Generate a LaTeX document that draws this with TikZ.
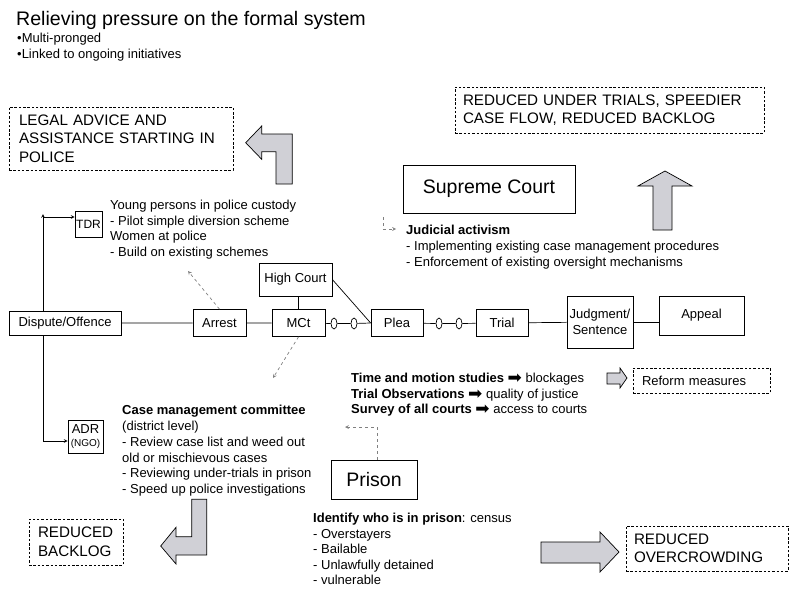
\documentclass[tikz,border=0pt]{standalone}
\usepackage{fontspec}
\setmainfont{Liberation Sans}
\newfontfamily\symfont{DejaVu Sans}
\usepackage{tikz}
\usetikzlibrary{arrows}
\usetikzlibrary{shapes.geometric}
\usepackage{xcolor}
\definecolor{arrowgray}{RGB}{208,208,214}
\tikzset{
  box/.style={draw, line width=0.7pt, fill=white, inner sep=1pt, align=center, font=\fontsize{13}{16}\selectfont},
  bigbox/.style={box, font=\fontsize{19.5}{22}\selectfont},
  dashbox/.style={draw, line width=0.7pt, dash pattern=on 2.5pt off 1.8pt, align=left, inner ysep=0pt, font=\fontsize{15.2}{18.5}\selectfont},
  textblock/.style={anchor=north west, inner sep=0pt, align=left, font=\fontsize{13}{15.5}\selectfont},
  oval/.style={draw, ellipse, line width=0.7pt, fill=white, minimum width=6pt, minimum height=11pt, inner sep=0pt},
  conn/.style={draw, line width=0.7pt},
  dasharrow/.style={draw=gray, dashed, line width=0.7pt, ->},
  blockarrow/.style={draw, line width=0.7pt, fill=arrowgray, line join=miter},
}
\newcommand{\heavyarrow}{\smash{\raisebox{-1pt}{\symfont\fontsize{17}{17}\selectfont ➡}}}
\begin{document}
\begin{tikzpicture}[x=1pt, y=-1pt, >=stealth]
    \useasboundingbox (0,0) rectangle (789,591);
    % heading
    \node[anchor=west, inner sep=0pt, font=\fontsize{19.6}{22}\selectfont] (title) at (16,20) {Relieving pressure on the formal system};
    \node[textblock, font=\fontsize{13}{16.7}\selectfont] (bullets) at (17,32.5) {•Multi-pronged\\•Linked to ongoing initiatives};

    % outcome boxes
    \node[dashbox, text width=204pt, inner xsep=10pt, minimum height=63pt] (legal) at (121,138.5) {LEGAL ADVICE AND\\ASSISTANCE STARTING IN\\POLICE};
    \node[dashbox, text width=293pt, inner xsep=8pt, minimum height=46pt, font=\fontsize{15.2}{17.5}\selectfont] (underTrials) at (609.5,110) {REDUCED UNDER TRIALS, SPEEDIER\\CASE FLOW, REDUCED BACKLOG};
    \node[dashbox, text width=76pt, inner xsep=9pt, minimum height=46pt] (backlog) at (76,542) {REDUCED\\BACKLOG};
    \node[dashbox, text width=146pt, inner xsep=8pt, minimum height=45pt] (overcrowd) at (707,548.5) {REDUCED\\OVERCROWDING};
    \node[dashbox, text width=119pt, inner xsep=9pt, minimum height=25pt, font=\fontsize{13}{15.5}\selectfont] (reform) at (701.5,380.5) {Reform measures};

    % institutions
    \node[bigbox, minimum width=172pt, minimum height=48pt] (supreme) at (489,189) {Supreme Court};
    \node[bigbox, minimum width=86pt, minimum height=39pt] (prison) at (374,479.5) {Prison};

    % case flow
    \node[box, minimum width=112pt, minimum height=24pt] (disp) at (65,323) {Dispute/Offence};
    \node[box, minimum width=53pt, minimum height=27pt] (arrest) at (219.5,323) {Arrest};
    \node[box, minimum width=53pt, minimum height=27pt] (mct) at (298.5,323) {MCt};
    \node[box, minimum width=73pt, minimum height=33pt] (hc) at (295.5,279.5) {High Court};
    \node[box, minimum width=52pt, minimum height=27pt] (plea) at (397,323) {Plea};
    \node[box, minimum width=52pt, minimum height=27pt] (trial) at (502,323) {Trial};
    \node[box, minimum width=66pt, minimum height=52pt] (judg) at (600,322) {Judgment/\\Sentence};
    \node[box, minimum width=85pt, minimum height=39pt] (appeal) at (701.5,315.5) {Appeal};
    \node[box, minimum width=27pt, minimum height=26pt, font=\fontsize{12}{14}\selectfont] (tdr) at (88.5,224) {TDR};
    \node[box, minimum width=35pt, minimum height=33pt, font=\fontsize{13}{14}\selectfont] (adr) at (85.5,436.5) {ADR\\[-1pt]{\fontsize{10}{11}\selectfont(NGO)}};
    \foreach \n/\x in {o1/334,o2/354,o3/439,o4/459}
        \node[oval] (\n) at (\x,323.5) {};

    \draw[conn] (disp) -- (arrest) -- (mct) -- (o1) -- (o2) -- (plea.west);
    \draw[conn] (plea) -- (o3) -- (o4) -- (trial) -- (judg);
    \draw[conn] (judg.east) -- (judg.east -| appeal.west);
    \draw[conn] (mct.north) -- (mct.north |- hc.south);
    \draw[conn] (hc.east) -- (plea.west);

    % diversion
    \coordinate (tdrturn) at (43,217);
    \coordinate (adrturn) at (43,441);
    \draw[conn, ->] (disp.north -| tdrturn) -- ([yshift=3pt]tdrturn);
    \draw[conn, ->] (tdrturn) -- (tdrturn -| tdr.west);
    \draw[conn, ->] (disp.south -| adrturn) -- (adrturn) -- (adrturn -| adr.west);

    % texts
    \node[textblock] (young) at (110,200) {Young persons in police custody\\- Pilot simple diversion scheme\\Women at police\\- Build on existing schemes};
    \node[textblock, font=\fontsize{13}{16}\selectfont] (judicial) at (406,225) {\textbf{Judicial activism}\\- Implementing existing case management procedures\\- Enforcement of existing oversight mechanisms};
    \node[textblock, font=\fontsize{13}{15.8}\selectfont] (casemgmt) at (122,405) {\textbf{Case management committee}\\(district level)\\- Review case list and weed out\\old or mischievous cases\\- Reviewing under-trials in prison\\- Speed up police investigations};
    \node[textblock] (studies) at (351,373) {\textbf{Time and motion studies} \heavyarrow{} blockages\\\textbf{Trial Observations} \heavyarrow{} quality of justice\\\textbf{Survey of all courts} \heavyarrow{} access to courts};
    \node[textblock] (census) at (313,513) {\textbf{Identify who is in prison}: census\\- Overstayers\\- Bailable\\- Unlawfully detained\\- vulnerable};

    % dashed pointers
    \coordinate (youngtip) at (188,271);
    \coordinate (casetip) at (273,378);
    \coordinate (prisontip) at (345,427);
    \coordinate (sctail) at (383,217);
    \coordinate (sctip) at (396,229);
    \draw[dasharrow] (arrest.north) -- (youngtip);
    \draw[dasharrow] (mct.south) -- (casetip);
    \draw[dasharrow] ([xshift=3pt]prison.north) |- (prisontip);
    \draw[dasharrow] (sctail) |- (sctip);

    % block arrows
    \draw[blockarrow] (245.7,142.7) -- (261.7,126) -- (261.7,134) -- (292.3,134) -- (292.3,184) -- (276,184) -- (276,151.7) -- (261.7,151.7) -- (261.7,159.3) -- cycle;
    \draw[blockarrow] (665,171) -- (692,186) -- (672,186) -- (672,230) -- (653,230) -- (653,186) -- (638,186) -- cycle;
    \draw[blockarrow] (160.7,546) -- (176,527.3) -- (176,536.7) -- (191.7,536.7) -- (191.7,499.3) -- (206.7,499.3) -- (206.7,555) -- (176,555) -- (176,564) -- cycle;
    \draw[blockarrow] (627,378) -- (620,368) -- (620,373) -- (607,373) -- (607,384) -- (620,384) -- (620,388) -- cycle;
    \draw[blockarrow] (619,552) -- (600,532) -- (600,542) -- (541,542) -- (541,563) -- (600,563) -- (600,572) -- cycle;
\end{tikzpicture}
\end{document}
